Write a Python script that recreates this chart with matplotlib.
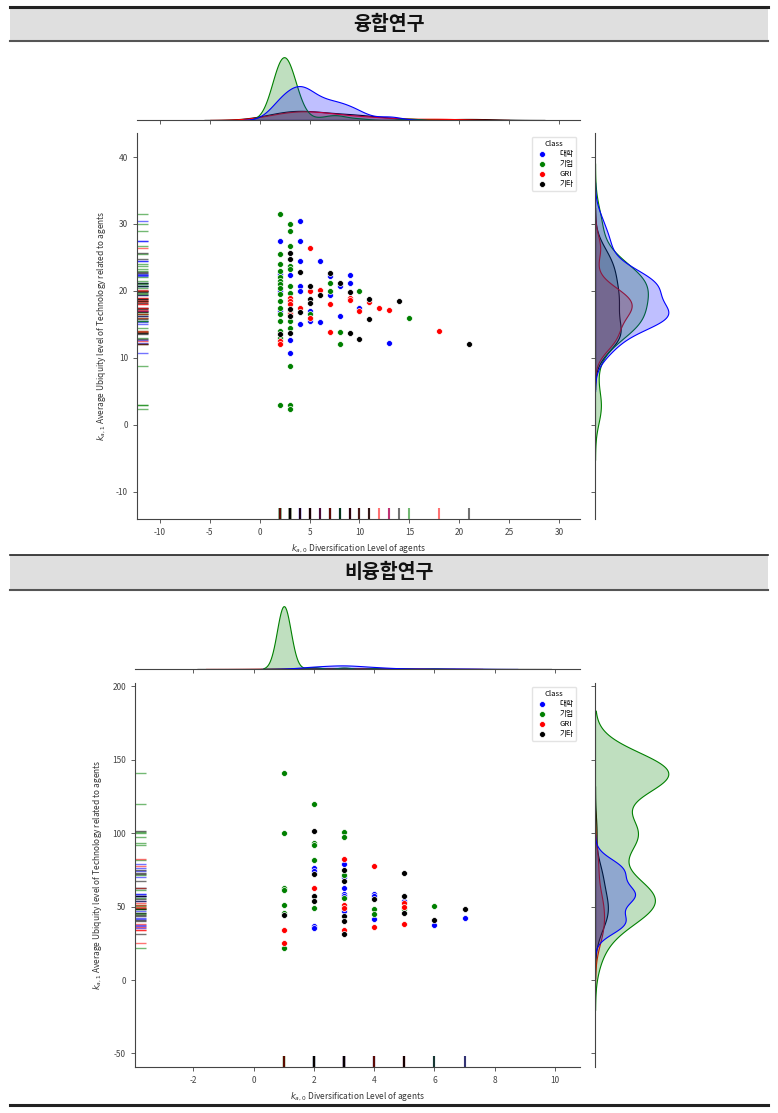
import numpy as np
import pandas as pd
import matplotlib
matplotlib.use('Agg')
import matplotlib.pyplot as plt
from matplotlib.lines import Line2D
from matplotlib.patches import Rectangle
import seaborn as sns

plt.rcParams['font.family'] = ['Noto Sans CJK KR', 'DejaVu Sans']
plt.rcParams['axes.unicode_minus'] = False

W, H = 778, 1113

classes = ['대학', '기업', 'GRI', '기타']
colors = ['blue', 'green', 'red', 'black']

# 융합연구 : x = diversification (k_a0), y = average ubiquity (k_a1)
fus_x = [
    [2, 2, 2, 2, 3, 3, 3, 4, 4, 4, 4, 4, 4, 5, 5, 6, 6, 7, 7, 8, 8, 9, 9, 10, 13],
    [2, 2, 2, 2, 2, 2, 2, 2, 2, 2, 2, 2, 2, 2, 2, 2,
     3, 3, 3, 3, 3, 3, 3, 3, 3, 3, 3, 3, 3, 5, 7, 7, 8, 8, 10, 15],
    [2, 2, 3, 3, 3, 3, 4, 5, 5, 5, 6, 7, 7, 9, 9, 10, 11, 12, 13, 18],
    [2, 3, 3, 3, 3, 3, 4, 4, 5, 5, 5, 6, 7, 8, 9, 9, 10, 11, 11, 14, 21],
]
fus_y = [
    [27.5, 22.5, 20.0, 17.0, 22.3, 12.7, 10.7, 30.5, 27.5, 24.5, 20.8, 20.0, 15.0,
     17.0, 15.5, 24.4, 15.4, 22.2, 19.4, 20.8, 16.3, 22.3, 21.2, 17.5, 12.2],
    [31.5, 25.5, 24.0, 23.0, 22.0, 21.5, 21.0, 20.5, 19.5, 18.5, 17.5, 16.5, 15.5, 14.0, 13.0, 3.0,
     30.0, 29.0, 26.7, 23.7, 23.2, 20.7, 19.7, 16.8, 15.5, 14.5, 8.7, 3.0, 2.3,
     16.5, 21.2, 20.0, 13.9, 12.0, 20.0, 16.0],
    [12.5, 12.0, 19.0, 18.5, 18.0, 16.5, 17.5, 26.4, 20.0, 16.0, 20.2, 18.0, 13.8,
     19.0, 18.7, 17.0, 18.4, 17.4, 17.1, 14.0],
    [13.5, 25.7, 24.7, 17.3, 16.3, 13.7, 22.8, 16.8, 20.8, 18.8, 18.2, 19.4, 22.6,
     21.2, 19.8, 13.7, 12.8, 18.8, 15.8, 18.5, 12.0],
]
# number of agents sharing each point (overlapping markers)
fus_n = [
    [2, 2, 3, 4, 2, 2, 2, 2, 2, 2, 3, 3, 4, 4, 4, 2, 4, 2, 4, 2, 4, 2, 2, 4, 3],
    [1, 1, 2, 2, 2, 2, 2, 2, 2, 2, 2, 2, 2, 2, 2, 1,
     1, 1, 1, 2, 2, 2, 3, 3, 3, 3, 1, 1, 1, 1, 1, 1, 1, 1, 1, 1],
    [2, 2, 1, 1, 1, 1, 1, 2, 1, 2, 2, 1, 2, 1, 1, 1, 1, 1, 1, 2],
    [2, 2, 2, 1, 1, 2, 2, 1, 1, 1, 1, 1, 2, 1, 1, 2, 2, 1, 1, 1, 2],
]

# 비융합연구
non_x = [
    [2, 2, 2, 2, 3, 3, 3, 3, 3, 3, 4, 4, 4, 5, 6, 7],
    [1, 1, 1, 1, 1, 1, 1, 2, 2, 2, 2, 2, 3, 3, 3, 3, 4, 4, 5, 6],
    [1, 1, 2, 3, 3, 3, 3, 4, 4, 5, 5, 5],
    [1, 2, 2, 2, 2, 3, 3, 3, 3, 3, 4, 5, 5, 5, 6, 7],
]
non_y = [
    [76.0, 74.0, 37.0, 35.2, 79.3, 70.0, 62.5, 58.6, 57.0, 47.3, 58.6, 57.5, 41.8, 54.0, 37.5, 42.3],
    [141, 100, 63, 61.5, 51, 46, 22, 120, 93.5, 92, 81.5, 49, 101, 97.5, 71.5, 56, 48.5, 44.8, 48.5, 50.5],
    [33.9, 25.0, 62.7, 82.7, 51.0, 48.9, 34.0, 77.7, 36.1, 52.7, 50.0, 38.0],
    [44.3, 101.8, 72.3, 57.3, 53.9, 75.2, 67.5, 43.9, 40.5, 31.4, 55.0, 72.7, 57.3, 45.9, 40.9, 48.4],
]
non_n = [
    [3, 3, 3, 3, 4, 4, 3, 3, 3, 3, 3, 3, 3, 2, 2, 2],
    [70, 35, 16, 10, 16, 16, 6, 1, 1, 1, 1, 1, 1, 1, 1, 1, 1, 1, 1, 1],
    [1] * 12,
    [1] * 16,
]

xlabel = '$k_{a,0}$ Diversification Level of agents'
ylabel = '$k_{a,1}$ Average Ubiquity level of Technology related to agents'


def px_axes(fig, left, top, right, bottom, **kw):
    return fig.add_axes([left / W, 1 - bottom / H, (right - left) / W, (bottom - top) / H], **kw)


def build(xs, ys, ns):
    rows = []
    for i, cls in enumerate(classes):
        for x, y, k in zip(xs[i], ys[i], ns[i]):
            rows += [(cls, x, y)] * k
    return pd.DataFrame(rows, columns=['Class', 'x', 'y'])


def draw_joint(fig, df, main_box, top_box, right_box, xlim, ylim, xticks, yticks):
    ax = px_axes(fig, *main_box)
    ax_top = px_axes(fig, *top_box, sharex=ax)
    ax_right = px_axes(fig, *right_box, sharey=ax)
    pal = dict(zip(classes, colors))

    kw = dict(hue='Class', hue_order=classes, palette=pal, fill=True,
              common_norm=True, legend=False, linewidth=0.8, alpha=0.25)
    sns.kdeplot(data=df, x='x', ax=ax_top, **kw)
    sns.kdeplot(data=df, y='y', ax=ax_right, **kw)

    uniq = df.drop_duplicates()
    for cls, col in zip(classes, colors):
        sub = uniq[uniq['Class'] == cls]
        ax.scatter(sub['x'], sub['y'], s=18, color=col, edgecolor='white',
                   linewidth=0.5, label=cls, zorder=3)
    rug = dict(hue='Class', hue_order=classes, palette=pal, legend=False, alpha=0.55)
    sns.rugplot(data=uniq, x='x', height=0.028, ax=ax, linewidth=1.5, **rug)
    sns.rugplot(data=uniq, y='y', height=0.025, ax=ax, linewidth=1.0, **rug)

    ax.set_xticks(xticks)
    ax.set_yticks(yticks)
    ax.set_xlabel(xlabel, fontsize=6, color='#333333', labelpad=4)
    ax.set_ylabel(ylabel, fontsize=6, color='#333333', labelpad=6)

    ax.legend(title='Class', loc='upper right', fontsize=5.5, title_fontsize=5.5,
              labelspacing=0.25, handletextpad=1.2, borderpad=0.4, framealpha=0.8,
              edgecolor='#dddddd', scatterpoints=1)

    for a in (ax, ax_top, ax_right):
        for s in a.spines.values():
            s.set_color('#444444')
            s.set_linewidth(0.8)
        a.tick_params(labelsize=6, colors='#444444', length=3, width=0.6)
    ax.spines[['top', 'right']].set_visible(False)
    ax_top.spines[['top', 'right', 'left']].set_visible(False)
    ax_right.spines[['top', 'right', 'bottom']].set_visible(False)
    ax_top.tick_params(labelbottom=False, left=False, labelleft=False)
    ax_right.tick_params(labelleft=False, bottom=False, labelbottom=False)
    for a in (ax_top, ax_right):
        a.set_xlabel('')
        a.set_ylabel('')
    ax_top.set_ylim(bottom=0)
    ax_right.set_xlim(left=0)
    ax.set_xlim(xlim)
    ax.set_ylim(ylim)


def header(fig, top, bottom, text, top_lw):
    fig.add_artist(Rectangle((10 / W, 1 - bottom / H), 758 / W, (bottom - top) / H,
                             transform=fig.transFigure, facecolor='#dfdfdf', edgecolor='none'))
    fig.add_artist(Line2D([10 / W, 768 / W], [1 - top / H] * 2, color='#222222', lw=top_lw))
    fig.add_artist(Line2D([10 / W, 768 / W], [1 - bottom / H] * 2, color='#555555', lw=1.5))
    fig.text(389 / W, 1 - (top + bottom) / 2 / H, text, ha='center', va='center',
             fontsize=14, fontweight='bold', color='#111111')


fig = plt.figure(figsize=(W / 100, H / 100), dpi=100)

header(fig, 7, 41, '융합연구', 2.2)
draw_joint(fig, build(fus_x, fus_y, fus_n),
           (137, 133, 580, 519), (137, 54, 580, 120), (595, 133, 672, 519),
           (-12.3, 32.1), (-14.1, 43.6), np.arange(-10, 31, 5), np.arange(-10, 41, 10))

header(fig, 555, 590, '비융합연구', 1.2)
draw_joint(fig, build(non_x, non_y, non_n),
           (135, 683, 580, 1067), (135, 603, 580, 669), (595, 683, 672, 1067),
           (-3.94, 10.83), (-59.2, 202.3), np.arange(-2, 11, 2), np.arange(-50, 201, 50))

fig.add_artist(Line2D([10 / W, 768 / W], [1 - 1105 / H] * 2, color='#222222', lw=2.2))

fig.savefig('out.png', dpi=100)
